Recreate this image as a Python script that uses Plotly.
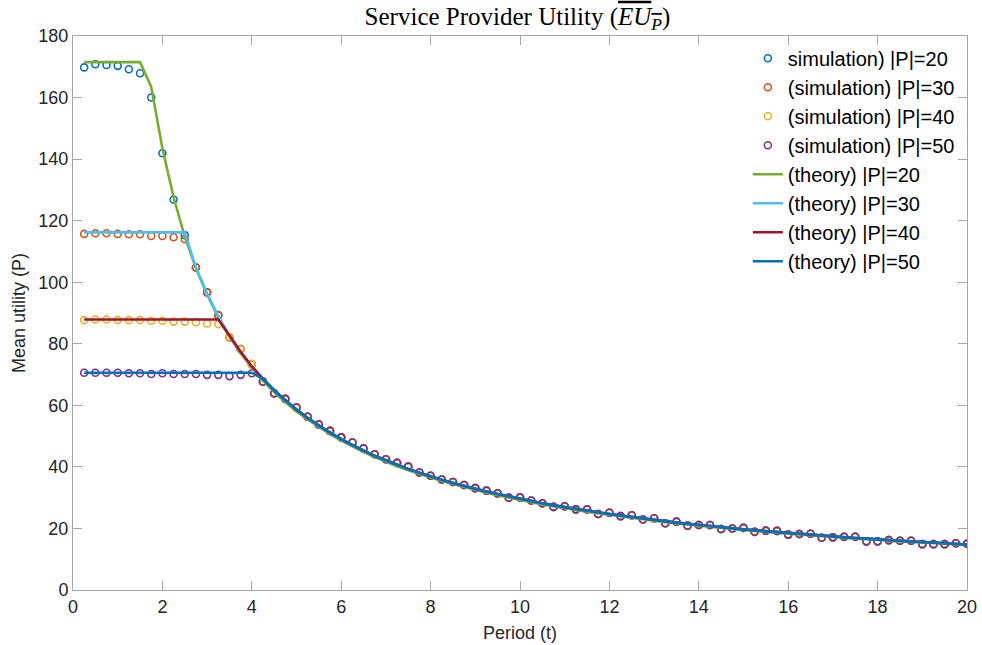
import plotly.graph_objects as go

# time grid (period t), step 0.25 from 0.25 to 20
t = [0.25 * k for k in range(1, 81)]

# ---- simulation data ----
sim20_head = [169.8, 170.8, 170.6, 170.3, 169.2, 167.9]                      # t=0.25..1.5
sim30_head = [115.7, 115.9, 115.9, 115.7, 115.6, 115.6, 115.0, 115.0, 114.6, 114.0]  # t=0.25..2.5
sim40_head = [87.7, 87.9, 87.9, 87.7, 87.7, 87.7, 87.5, 87.5, 87.2, 87.2, 87.0, 86.6, 86.4]  # ..3.25
sim50_head = [70.6, 70.6, 70.6, 70.6, 70.4, 70.4, 70.2, 70.4, 70.2, 70.2, 70.2, 69.9,
              69.9, 69.5, 69.9, 70.4]                                        # t=0.25..4.0
# shared decaying part of the simulations, t=1.75..20
sim_decay = [160.0,
             141.9, 126.9, 115.3, 104.8,
             96.7, 89.3, 82.1, 78.3,
             73.4, 67.7, 63.9, 62.1,
             59.3, 56.3, 53.8, 51.7,
             49.6, 47.9, 46.0, 44.1,
             42.5, 41.3, 40.1, 38.2,
             37.1, 35.9, 35.1, 34.1,
             33.1, 32.3, 31.4, 30.0,
             30.1, 29.1, 28.2, 27.0,
             27.2, 26.2, 26.2, 24.7,
             25.1, 24.0, 24.3, 22.9,
             23.3, 21.7, 22.2, 20.9,
             21.1, 21.1, 19.8, 20.0,
             20.2, 18.9, 19.3, 19.2,
             18.0, 18.2, 18.3, 17.0,
             17.1, 17.3, 17.3, 15.8,
             15.8, 16.2, 16.0, 16.0,
             14.9, 14.9, 14.9, 15.2,
             15.0]

# ---- theory data ----
caps = {20: 171.5, 30: 116.2, 40: 87.9, 50: 70.6}
theory_lo = [163.5,                      # t=1.75
             143.5, 127.6, 114.8, 104.5,
             96.0, 88.6, 82.3, 76.9,
             72.2, 68.0, 64.3, 61.0,
             58.0, 55.4, 52.9, 50.6,
             48.5, 46.6, 44.8, 43.2,
             41.6, 40.2, 38.9, 37.7,
             36.5, 35.4, 34.4, 33.4,
             32.5, 31.6, 30.8, 30.0,
             29.2, 28.5, 27.8, 27.2,
             26.5, 26.0, 25.4, 24.9,
             24.3, 23.8, 23.4, 22.9,
             22.5, 22.0, 21.6, 21.2,
             20.9, 20.5, 20.1, 19.8,
             19.5, 19.1, 18.8, 18.5,
             18.3, 18.0, 17.7, 17.4,
             17.2, 16.9, 16.7, 16.5,
             16.2, 16.0, 15.8, 15.6,
             15.4, 15.2, 15.0, 14.8,
             14.6]
theory_hi = [104.7,                      # t=2.75
             96.3, 89.0, 82.7, 77.4,
             72.7, 68.6, 64.9, 61.6,
             58.6, 55.9, 53.4, 51.1,
             49.0, 47.1, 45.3, 43.6,
             42.1, 40.6, 39.3, 38.1,
             36.9, 35.8, 34.8, 33.8,
             32.9, 32.0, 31.2, 30.4,
             29.6, 28.9, 28.2, 27.5,
             26.9, 26.3, 25.7, 25.2,
             24.7, 24.2, 23.7, 23.2,
             22.8, 22.3, 21.9, 21.5,
             21.1, 20.8, 20.4, 20.1,
             19.7, 19.4, 19.1, 18.8,
             18.5, 18.2, 17.9, 17.7,
             17.4, 17.2, 16.9, 16.7,
             16.4, 16.2, 16.0, 15.8,
             15.6, 15.4, 15.2, 15.0,
             14.8]

sim = {
    20: sim20_head + sim_decay,
    30: sim30_head + sim_decay[4:],
    40: sim40_head + sim_decay[7:],
    50: sim50_head + sim_decay[10:],
}
theory = {
    20: [caps[20]] * 6 + theory_lo,
    30: [caps[30]] * 10 + theory_hi,
    40: [caps[40]] * 13 + theory_hi[3:],
    50: [caps[50]] * 16 + theory_hi[6:],
}

sim_labels = {20: "simulation) |P|=20", 30: "(simulation) |P|=30",
              40: "(simulation) |P|=40", 50: "(simulation) |P|=50"}
sim_colors = {20: "#0072BD", 30: "#D95319", 40: "#EDB120", 50: "#7E2F8E"}
th_colors = {20: "#77AC30", 30: "#4DBEEE", 40: "#A2142F", 50: "#0072BD"}

fig = go.Figure()
for p in [20, 30, 40, 50]:
    fig.add_trace(go.Scatter(
        x=t, y=sim[p], mode="markers", name=sim_labels[p],
        marker=dict(symbol="circle-open", size=7, color=sim_colors[p],
                    line=dict(width=1.6, color=sim_colors[p]))))
for p in [20, 30, 40, 50]:
    fig.add_trace(go.Scatter(
        x=t, y=theory[p], mode="lines", name=f"(theory) |P|={p}",
        line=dict(color=th_colors[p], width=2.6)))

axis_common = dict(showline=True, linecolor="#a6a6a6", linewidth=1, mirror="ticks",
                   ticks="inside", ticklen=9, tickcolor="#a6a6a6", showgrid=False,
                   zeroline=False, automargin=False,
                   tickfont=dict(family="Liberation Sans, Arial", size=18, color="#262626"))

fig.update_layout(
    width=982, height=645,
    margin=dict(l=73, r=15, t=36, b=55),
    paper_bgcolor="white", plot_bgcolor="white",
    title=dict(text='Service Provider Utility (<span style="text-decoration:overline"><i>EU</i><sub><i>P</i></sub></span>)',
               x=0.527, xanchor="center", y=1 - 16 / 645, yanchor="middle", yref="container",
               font=dict(family="Liberation Serif, DejaVu Serif", size=25, color="#000000")),
    xaxis=dict(range=[0, 20], dtick=2, tick0=0,
               title=dict(text="Period (t)", standoff=10,
                          font=dict(family="Liberation Sans, Arial", size=18, color="#262626")),
               **axis_common),
    yaxis=dict(range=[0, 180], dtick=20, tick0=0,
               title=dict(text="Mean utility (P)", standoff=8,
                          font=dict(family="Liberation Sans, Arial", size=18, color="#262626")),
               **axis_common),
    legend=dict(x=0.992, xanchor="right", y=0.995, yanchor="top",
                bgcolor="rgba(0,0,0,0)", borderwidth=0, itemwidth=30,
                tracegroupgap=0,
                font=dict(family="Liberation Sans, Arial", size=20, color="#000000")),
    showlegend=True,
)

fig.write_html("out.html")
